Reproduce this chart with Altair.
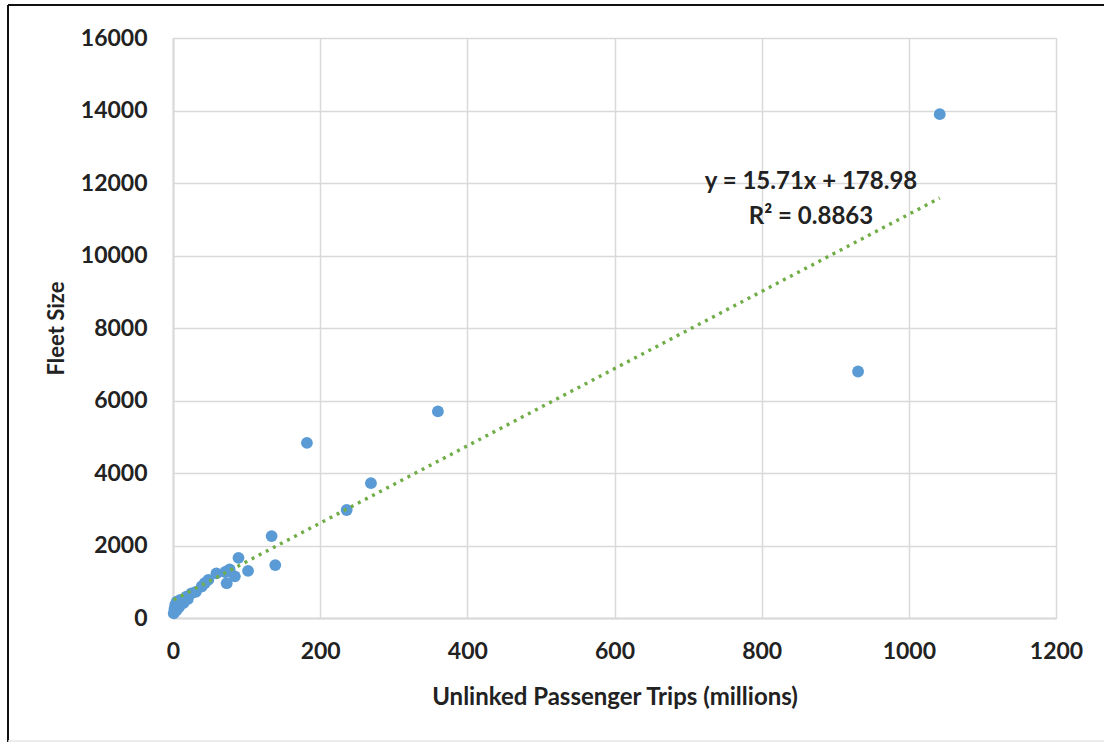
import altair as alt
import pandas as pd

# Unlinked passenger trips (millions) and fleet size per agency
trips = [1042, 931, 360, 182, 269, 236, 134, 139, 89, 102,
         77, 73, 59, 71, 43, 48, 39, 25, 31, 18,
         10, 3, 1, 5, 14, 5, 8, 2, 20, 84]
fleet = [13900, 6800, 5700, 4830, 3720, 2980, 2260, 1460, 1660, 1300,
         1340, 960, 1230, 1270, 960, 1050, 870, 680, 720, 590,
         500, 360, 130, 220, 410, 450, 300, 250, 520, 1150]

x_ticks = [0, 200, 400, 600, 800, 1000, 1200]
y_ticks = [0, 2000, 4000, 6000, 8000, 10000, 12000, 14000, 16000]

eq_text = "y = 15.71x + 178.98"
r2_text = "R² = 0.8863"

df = pd.DataFrame({"trips": trips, "fleet": fleet})
one = pd.DataFrame({"k": [0]})

FONT = "Lato"
W, H = 883, 580

x_scale = alt.Scale(domain=[0, 1200], nice=False)
y_scale = alt.Scale(domain=[0, 16000], nice=False)

x_enc = alt.X(
    "trips:Q",
    scale=x_scale,
    axis=alt.Axis(
        values=x_ticks, format="d", title="Unlinked Passenger Trips (millions)",
        grid=True, gridColor="#D9D9D9", gridWidth=1.5,
        domainColor="#D9D9D9", domainWidth=2, ticks=False,
        labelFont=FONT, labelFontSize=23, labelFontWeight="bold", labelColor="#222222",
        labelPadding=22, labelFlush=False,
        titleFont=FONT, titleFontSize=24, titleFontWeight="bold", titleColor="#222222",
        titleX=W / 2, titleY=79, titleBaseline="middle",
    ),
)
y_enc = alt.Y(
    "fleet:Q",
    scale=y_scale,
    axis=alt.Axis(
        values=y_ticks, format="d", title="Fleet Size",
        grid=True, gridColor="#D9D9D9", gridWidth=1.5,
        domainColor="#D9D9D9", domainWidth=2, ticks=False,
        labelFont=FONT, labelFontSize=23, labelFontWeight="bold", labelColor="#222222",
        labelPadding=26, labelFlush=False,
        titleFont=FONT, titleFontSize=22, titleFontWeight="bold", titleColor="#222222",
        titleX=-117, titleY=H / 2, titleAngle=-90, titleBaseline="middle", titleAlign="center",
    ),
)

points = alt.Chart(df).mark_circle(size=140, color="#5B9BD5", opacity=1).encode(x=x_enc, y=y_enc)

trend = (
    alt.Chart(df)
    .transform_regression("trips", "fleet", method="linear")
    .mark_line(color="#70AD47", strokeWidth=3.4, strokeDash=[3, 5])
    .encode(x=alt.X("trips:Q", scale=x_scale), y=alt.Y("fleet:Q", scale=y_scale))
)

text_style = dict(font=FONT, fontSize=24, fontWeight="bold", color="#222222",
                  align="center", baseline="middle")
eq_label = alt.Chart(one).mark_text(text=eq_text, **text_style).encode(
    x=alt.value(638), y=alt.value(144)
)
r2_label = alt.Chart(one).mark_text(text=r2_text, **text_style).encode(
    x=alt.value(638), y=alt.value(179)
)

# outer frame edges
frame_left = alt.Chart(one).mark_rule(color="#111111", strokeWidth=2).encode(
    x=alt.value(-165), y=alt.value(-33), y2=alt.value(720)
)
frame_top = alt.Chart(one).mark_rule(color="#111111", strokeWidth=2).encode(
    x=alt.value(-165), x2=alt.value(940), y=alt.value(-33)
)
frame_bottom = alt.Chart(one).mark_rule(color="#E6E6E6", strokeWidth=1.5).encode(
    x=alt.value(-165), x2=alt.value(940), y=alt.value(703)
)

chart = (
    alt.layer(points, trend, eq_label, r2_label, frame_left, frame_top, frame_bottom)
    .properties(
        width=W, height=H,
        autosize=alt.AutoSizeParams(type="none"),
        padding={"left": 173, "top": 38, "right": 48, "bottom": 124},
    )
    .configure_view(stroke="#333333", strokeWidth=2)
    .configure(background="white")
)

chart.save("out.html", embed_options={"renderer": "svg", "actions": False})
